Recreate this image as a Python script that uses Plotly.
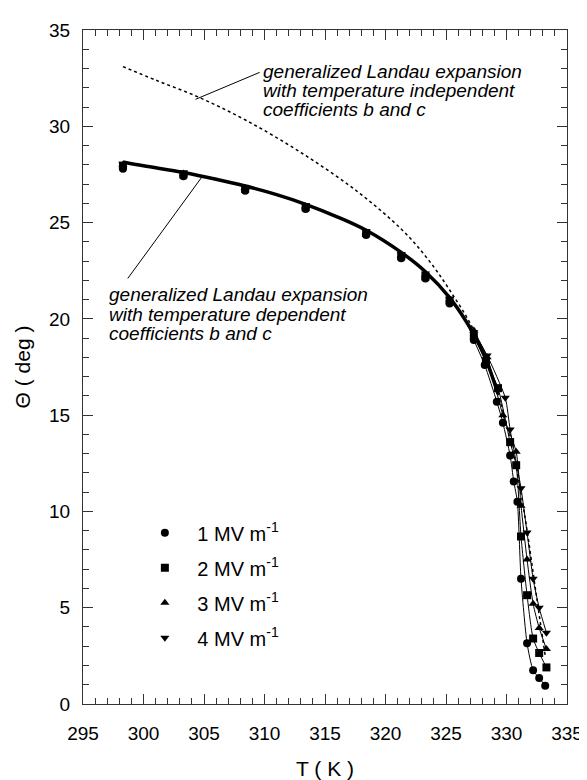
import plotly.graph_objects as go

# ---------------- data ----------------
T1 = [298.3, 303.3, 308.4, 313.4, 318.4, 321.3, 323.3, 325.3, 327.3, 328.2, 329.2, 329.7, 330.3, 330.6, 330.9, 331.2, 331.7, 332.2, 332.7, 333.2]
TH1 = [27.8, 27.4, 26.65, 25.7, 24.35, 23.15, 22.1, 20.8, 18.9, 17.6, 15.7, 14.6, 12.9, 11.55, 10.5, 6.5, 3.15, 1.75, 1.35, 0.95]

T2 = [298.3, 303.3, 308.4, 313.4, 318.4, 321.3, 323.3, 325.3, 327.3, 328.3, 329.3, 330.3, 330.8, 331.2, 331.7, 332.2, 332.7, 333.3]
TH2 = [27.95, 27.5, 26.75, 25.8, 24.45, 23.25, 22.2, 20.95, 19.1, 17.8, 16.4, 13.6, 12.4, 8.7, 5.65, 3.4, 2.65, 1.9]

T3 = [298.3, 303.3, 308.4, 313.4, 318.4, 321.3, 323.3, 325.3, 327.3, 328.4, 329.7, 330.8, 331.2, 331.7, 332.2, 332.7, 333.3]
TH3 = [28.0, 27.55, 26.8, 25.85, 24.5, 23.3, 22.3, 21.0, 19.4, 18.0, 15.0, 13.1, 10.3, 7.5, 5.2, 3.95, 2.85]

T4 = [298.3, 303.3, 308.4, 313.4, 318.4, 321.3, 323.3, 325.3, 327.3, 328.4, 329.9, 330.3, 331.2, 331.7, 332.2, 332.7, 333.3]
TH4 = [28.05, 27.6, 26.85, 25.9, 24.55, 23.35, 22.35, 21.05, 19.3, 18.1, 15.9, 14.25, 11.2, 8.9, 6.5, 5.0, 3.7]

# fit with temperature dependent coefficients (thick line)
FIT_T = [298.3, 300.0, 303.3, 306.0, 308.4, 311.0, 313.4, 316.0, 318.4, 321.3, 323.3, 325.3, 327.3, 328.3, 329.3]
FIT_TH = [28.15, 27.95, 27.6, 27.25, 26.9, 26.45, 25.95, 25.3, 24.6, 23.45, 22.45, 21.1, 19.2, 17.9, 16.1]

# fit with temperature independent coefficients (dotted line)
DOT_T = [298.3, 301.0, 304.6, 308.5, 313.1, 317.7, 321.4, 323.5, 325.3, 327.3, 329.0, 330.5, 331.5, 332.5, 333.2]
DOT_TH = [33.1, 32.4, 31.5, 30.3, 28.6, 26.6, 24.6, 23.1, 21.5, 19.4, 16.7, 13.2, 9.8, 5.5, 2.5]

LABELS = ["1 MV m<sup>-1</sup>", "2 MV m<sup>-1</sup>", "3 MV m<sup>-1</sup>", "4 MV m<sup>-1</sup>"]
SYMBOLS = ["circle", "square", "triangle-up", "triangle-down"]

ANN_TOP = ["generalized Landau expansion", "with temperature independent", "coefficients b and c"]
ANN_TOP_Y = [32.85, 31.85, 30.85]
ANN_BOT = ["generalized Landau expansion", "with temperature dependent", "coefficients b and c"]
ANN_BOT_Y = [21.25, 20.25, 19.25]

FONT = "Liberation Sans, Arial, sans-serif"

fig = go.Figure()

# dotted fit
fig.add_trace(go.Scatter(x=DOT_T, y=DOT_TH, mode="lines", showlegend=False,
                         line=dict(color="black", width=1.5, dash="dot", shape="spline")))
# thick fit
fig.add_trace(go.Scatter(x=FIT_T, y=FIT_TH, mode="lines", showlegend=False,
                         line=dict(color="black", width=3.5, shape="spline")))

series = [(T1, TH1), (T2, TH2), (T3, TH3), (T4, TH4)]
# thin fit lines near transition
for (t, th) in series:
    tt = [a for a in t if a >= 327.0]
    yy = [b for a, b in zip(t, th) if a >= 327.0]
    fig.add_trace(go.Scatter(x=tt, y=yy, mode="lines", showlegend=False,
                             line=dict(color="black", width=1, shape="spline", smoothing=0.6)))

for i, ((t, th), lab, sym) in enumerate(zip(series, LABELS, SYMBOLS)):
    fig.add_trace(go.Scatter(x=t, y=th, mode="markers", name=lab, legendgroup=f"g{i}",
                             marker=dict(symbol=sym, size=8, color="black")))

# annotations text
for s, yv in zip(ANN_TOP, ANN_TOP_Y):
    fig.add_annotation(x=309.7, y=yv, text=f"<i>{s}</i>", showarrow=False,
                       xanchor="left", yanchor="middle", font=dict(family=FONT, size=19, color="black"))
for s, yv in zip(ANN_BOT, ANN_BOT_Y):
    fig.add_annotation(x=297.0, y=yv, text=f"<i>{s}</i>", showarrow=False,
                       xanchor="left", yanchor="middle", font=dict(family=FONT, size=19, color="black"))

# leader lines
fig.add_shape(type="line", x0=309.6, y0=32.8, x1=304.3, y1=31.4, line=dict(color="black", width=1))
fig.add_shape(type="line", x0=304.9, y0=27.43, x1=298.7, y1=22.1, line=dict(color="black", width=1))

axis_common = dict(showgrid=False, zeroline=False, showline=True, linecolor="#333", linewidth=1,
                   mirror="ticks", ticks="inside", ticklen=10, tickcolor="#333", tickwidth=1,
                   tickfont=dict(family=FONT, size=19, color="black"),
                   minor=dict(ticks="inside", ticklen=6, dtick=1, tickcolor="#333", tickwidth=1))

fig.update_xaxes(range=[295, 335], tick0=295, dtick=5, ticklabelstandoff=12,
                 title=dict(text="T ( K )", font=dict(family=FONT, size=21, color="black"), standoff=18),
                 **axis_common)
fig.update_yaxes(range=[0, 35], tick0=0, dtick=5, ticklabelstandoff=8,
                 title=dict(text="Θ ( deg )", font=dict(family=FONT, size=21, color="black"), standoff=12),
                 **axis_common)

fig.update_layout(width=587, height=780, autosize=False,
                  margin=dict(l=75, r=19, t=19, b=67),
                  paper_bgcolor="white", plot_bgcolor="white",
                  legend=dict(x=0.102, y=0.283, xanchor="left", yanchor="top",
                              font=dict(family=FONT, size=20, color="black"),
                              tracegroupgap=6, bgcolor="rgba(0,0,0,0)", itemwidth=55),
                  font=dict(family=FONT, color="black"))

fig.write_html("out.html")
